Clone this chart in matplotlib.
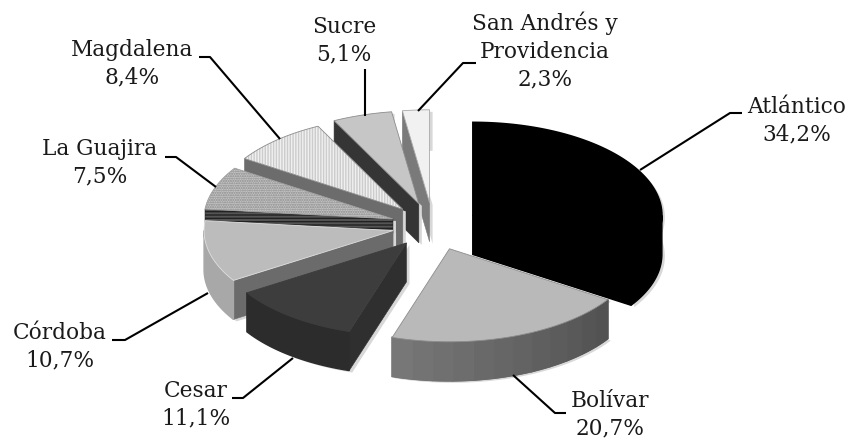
import numpy as np
import matplotlib
matplotlib.use("Agg")
import matplotlib.pyplot as plt
from matplotlib.colors import to_rgb
from matplotlib.patches import Polygon

# ---- data ----
departments = ["Atlántico", "Bolívar", "Cesar", "Córdoba", "La Guajira",
               "Magdalena", "Sucre", "San Andrés y\nProvidencia"]
shares = [34.2, 20.7, 11.1, 10.7, 7.5, 8.4, 5.1, 2.3]

# ---- style ----
explode = [0.24, 0.26, 0.23, 0.217, 0.225, 0.24, 0.25, 0.25]
top_colors = ["#000000", "#b9b9b9", "#3d3d3d", "#bcbcbc", "#c4c4c4", "#f0f0f0", "#c6c6c6", "#f1f1f1"]
top_hatch = [None, None, None, None, ".......", "||||||", None, None]
hatch_colors = [None, None, None, None, "#8a8a8a", "#cccccc", None, None]
edge_colors = ["#000000", "#8c8c8c", "#3d3d3d", "#e0e0e0", "#a0a0a0", "#8c8c8c", "#8c8c8c", "#a8a8a8"]
rim_left = ["#000000", "#7a7a7a", "#2c2c2c", "#a8a8a8", "#777777", "#777777", "#555555", "#888888"]
rim_right = ["#000000", "#525252", "#2c2c2c", "#a8a8a8", "#777777", "#777777", "#555555", "#888888"]
cut_colors = ["#000000", "#606060", "#2f2f2f", "#6b6b6b", "#555555", "#6c6c6c", "#353535", "#7a7a7a"]
cut_hatch = [None, None, None, None, "-----", None, None, None]
label_xy = [(797, 121), (610, 415), (196, 405), (60, 347), (100, 163), (132, 64), (344, 41), (545, 51)]
leaders = [[(640, 170), (730, 113), (742, 113)],
           [(513, 375), (555, 413), (566, 413)],
           [(293, 358), (243, 398), (232, 398)],
           [(208, 293), (125, 340), (112, 340)],
           [(216, 187), (176, 157), (165, 157)],
           [(280, 139), (210, 57), (199, 57)],
           [(365, 116), (365, 69)],
           [(418, 111), (463, 63), (476, 63)]]

CX, CY = 433, 226     # pie centre in pixels
RX, RY = 189, 93      # top ellipse radii
DEPTH = 39            # extrusion

fig = plt.figure(figsize=(8.49, 4.42), dpi=100)
ax = fig.add_axes([0, 0, 1, 1])
ax.set_xlim(0, 849)
ax.set_ylim(442, 0)
ax.axis("off")


def rim(a0, a1, x0, y0):
    t = np.radians(np.linspace(a0, a1, max(int(abs(a1 - a0)) * 2, 2)))
    return np.column_stack([x0 + RX * np.sin(t), y0 - RY * np.cos(t)])


def extrude(pts):
    return np.vstack([pts, pts[::-1] + np.array([0, DEPTH])])


edges = np.concatenate([[0], np.cumsum(shares)]) / np.sum(shares) * 360
slices = []
for i in range(len(shares)):
    mid = np.radians((edges[i] + edges[i + 1]) / 2)
    ax0 = CX + explode[i] * RX * np.sin(mid)
    ay0 = CY - explode[i] * RY * np.cos(mid)
    slices.append((i, edges[i], edges[i + 1], ax0, ay0))

# back-to-front drawing order
order = [7, 6, 5, 4, 3, 2, 0, 1]
z = 2
for i in order:
    _, a0, a1, x0, y0 = slices[i]
    apex = np.array([[x0, y0]])
    arc = rim(a0, a1, x0, y0)
    top = np.vstack([apex, arc])
    # soft shadow
    ax.add_patch(Polygon(extrude(top) + [3, 2], closed=True, fc="#d8d8d8", ec="none", zorder=z))
    z += 1
    # cut faces
    if a0 > 180:
        ax.add_patch(Polygon(extrude(np.vstack([apex, arc[:1]])), closed=True, fc=cut_colors[i],
                             ec="#222222" if cut_hatch[i] else cut_colors[i], hatch=cut_hatch[i], lw=0.4, zorder=z))
        z += 1
    if a1 < 180:
        ax.add_patch(Polygon(extrude(np.vstack([apex, arc[-1:]])), closed=True, fc=cut_colors[i],
                             ec=cut_colors[i], lw=1.2, zorder=z))
        z += 1
    # outer rim (front half only), shaded from the left end to the right end
    lo, hi = max(a0, 90), min(a1, 270)
    if hi > lo:
        left, right = np.array(to_rgb(rim_left[i])), np.array(to_rgb(rim_right[i]))
        # solid base so that no seam shows between the shaded steps
        ax.add_patch(Polygon(extrude(rim(lo, hi, x0, y0)), closed=True, fc=(left + right) / 2,
                             ec=(left + right) / 2, lw=1.0, zorder=z))
        z += 1
        if rim_left[i] != rim_right[i]:
            steps = np.linspace(lo, hi, 13)
            for s0, s1 in zip(steps[:-1], steps[1:]):
                f = (s0 - lo) / (hi - lo)
                col = left * f + right * (1 - f)
                ax.add_patch(Polygon(extrude(rim(s0, s1, x0, y0)), closed=True, fc=col, ec=col, lw=1.2,
                                     zorder=z))
            z += 1
    # top face
    ax.add_patch(Polygon(top, closed=True, fc=top_colors[i], ec="none", zorder=z))
    z += 1
    if top_hatch[i]:
        ax.add_patch(Polygon(top, closed=True, fc="none", ec=hatch_colors[i], hatch=top_hatch[i], lw=0, zorder=z))
        z += 1
    ax.add_patch(Polygon(top, closed=True, fc="none", ec=edge_colors[i],
                         lw=1.2 if top_colors[i] == "#000000" else 0.6, zorder=z))
    z += 1

for name, val, (lx, ly), ld in zip(departments, shares, label_xy, leaders):
    xs, ys = zip(*ld)
    ax.plot(xs, ys, color="black", lw=1.5, zorder=z, solid_capstyle="butt")
    ax.text(lx, ly, f"{name}\n{val:.1f}%".replace(".", ","), ha="center", va="center",
            family="DejaVu Serif", fontsize=15.6, linespacing=1.33, color="#1a1a1a", zorder=z)

fig.savefig("out.png", dpi=100)
